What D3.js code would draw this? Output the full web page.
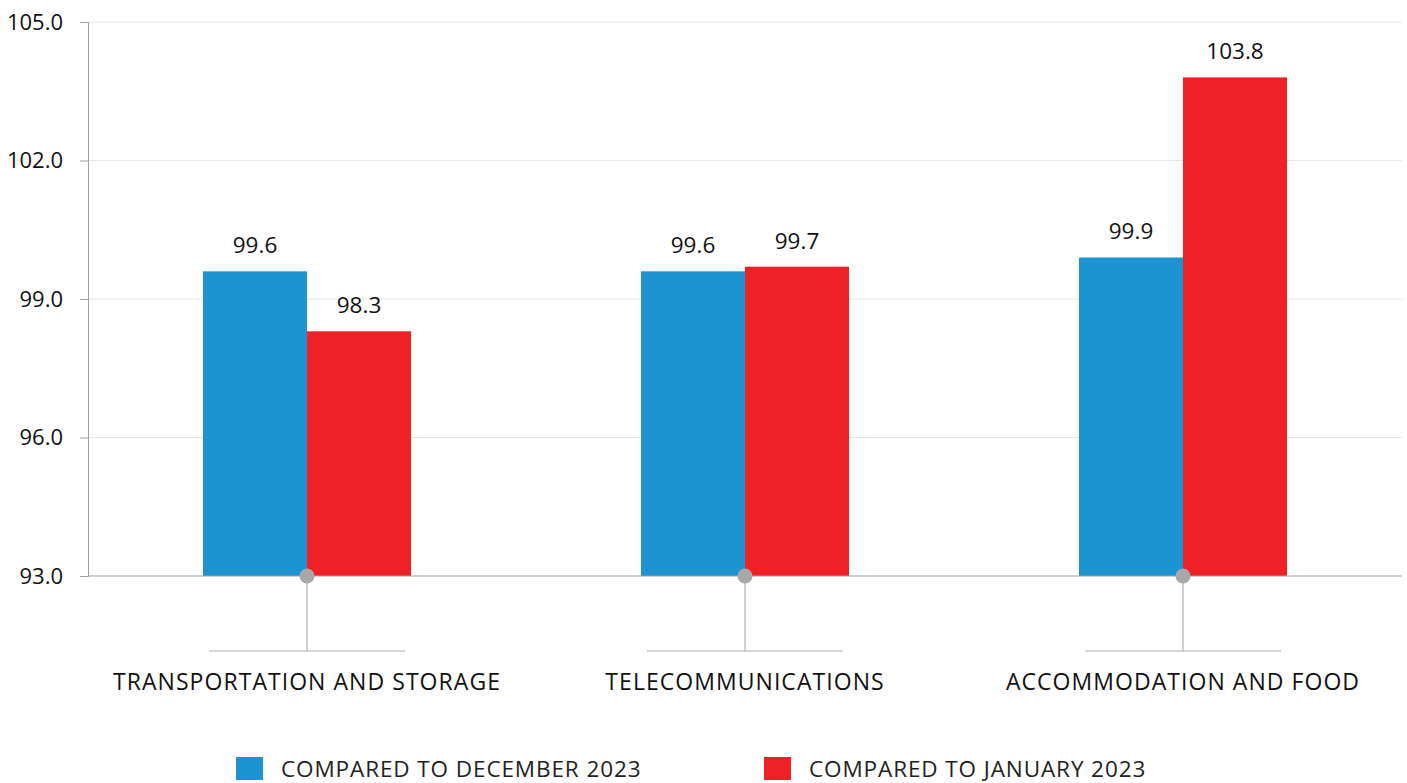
<!DOCTYPE html>
<html>
<head>
<meta charset="utf-8">
<script src="https://cdn.jsdelivr.net/npm/d3@7"></script>
<style>
  body { margin: 0; background: #fff; }
  text { font-family: "Open Sans", "Noto Sans", sans-serif; }
</style>
</head>
<body>
<div id="chart"></div>
<script>
const categories = ["TRANSPORTATION AND STORAGE", "TELECOMMUNICATIONS", "ACCOMMODATION AND FOOD"];
const seriesNames = ["COMPARED TO DECEMBER 2023", "COMPARED TO JANUARY 2023"];
const decValues = [99.6, 99.6, 99.9];
const janValues = [98.3, 99.7, 103.8];
const yTicks = [93, 96, 99, 102, 105];
const colors = ["#1e93d2", "#ee2127"];

const width = 1407, height = 783;
const plotLeft = 88, plotRight = 1402, plotTop = 22, plotBottom = 576;

const svg = d3.select("#chart").append("svg")
    .attr("width", width)
    .attr("height", height);

const x = d3.scaleBand().domain(categories).range([plotLeft, plotRight]);
const y = d3.scaleLinear().domain([93, 105]).range([plotBottom, plotTop]);
const barW = 104;

// gridlines
svg.append("g").selectAll("line")
    .data(yTicks.filter(t => t !== 93))
    .enter().append("line")
    .attr("x1", plotLeft).attr("x2", plotRight)
    .attr("y1", d => y(d)).attr("y2", d => y(d))
    .attr("stroke", "#e6e6e6").attr("stroke-width", 1);

// y axis
const yAxis = d3.axisLeft(y).tickValues(yTicks).tickFormat(d3.format(".1f")).tickSize(8).tickPadding(17);
const gy = svg.append("g").attr("transform", `translate(${plotLeft},0)`).call(yAxis);
gy.select(".domain").attr("stroke", "#a0a0a0");
gy.selectAll(".tick line").attr("stroke", "#a0a0a0");
gy.selectAll(".tick text").attr("font-size", 22).attr("fill", "#111")
    .style("font-family", '"Open Sans", "Noto Sans", sans-serif');

// bars + value labels
const series = [decValues, janValues];
series.forEach((vals, s) => {
    svg.append("g").selectAll("rect")
        .data(categories)
        .enter().append("rect")
        .attr("x", d => x(d) + x.bandwidth() / 2 - barW + s * barW)
        .attr("y", (d, i) => y(vals[i]))
        .attr("width", barW)
        .attr("height", (d, i) => y(93) - y(vals[i]))
        .attr("fill", colors[s]);

    svg.append("g").selectAll("text")
        .data(categories)
        .enter().append("text")
        .attr("x", d => x(d) + x.bandwidth() / 2 - barW / 2 + s * barW)
        .attr("y", (d, i) => y(vals[i]) - 18)
        .attr("text-anchor", "middle")
        .attr("font-size", 22.5)
        .attr("fill", "#111")
        .text((d, i) => vals[i].toFixed(1));
});

// baseline
svg.append("line")
    .attr("x1", plotLeft).attr("x2", plotRight)
    .attr("y1", y(93)).attr("y2", y(93))
    .attr("stroke", "#a0a0a0").attr("stroke-width", 1.2);

// category connectors
categories.forEach(c => {
    const cx = x(c) + x.bandwidth() / 2;
    svg.append("line")
        .attr("x1", cx).attr("x2", cx)
        .attr("y1", y(93)).attr("y2", 651)
        .attr("stroke", "#b0b0b0").attr("stroke-width", 1.2);
    svg.append("line")
        .attr("x1", cx - 98).attr("x2", cx + 98)
        .attr("y1", 651).attr("y2", 651)
        .attr("stroke", "#b0b0b0").attr("stroke-width", 1.2);
    svg.append("circle")
        .attr("cx", cx).attr("cy", y(93)).attr("r", 7.5)
        .attr("fill", "#a8a8aa");
    svg.append("text")
        .attr("x", cx).attr("y", 690)
        .attr("text-anchor", "middle")
        .attr("font-size", 23)
        .attr("letter-spacing", 1.05)
        .attr("fill", "#111")
        .text(c);
});

// legend
const legendX = [236, 764];
seriesNames.forEach((name, i) => {
    svg.append("rect")
        .attr("x", legendX[i]).attr("y", 757)
        .attr("width", 27).attr("height", 23)
        .attr("fill", colors[i]);
    svg.append("text")
        .attr("x", legendX[i] + 45).attr("y", 777)
        .attr("font-size", 22.5)
        .attr("letter-spacing", 0.9)
        .attr("fill", "#222")
        .text(name);
});
</script>
</body>
</html>
